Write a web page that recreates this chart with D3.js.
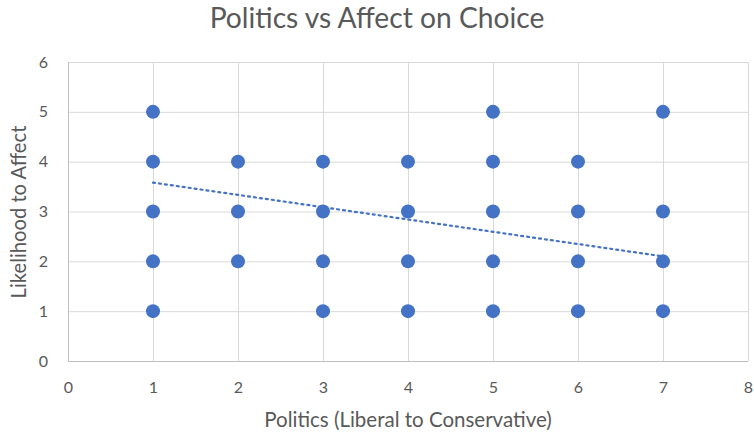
<!DOCTYPE html>
<meta charset="utf-8">
<title>Politics vs Affect on Choice</title>
<style>

body {
  margin: 0;
  background-color: white;
}

text {
  font-family: Lato, "Open Sans", sans-serif;
  fill: #595959;
}

.grid line {
  stroke: #d9d9d9;
  stroke-width: 1px;
}

.axis path, .axis line {
  display: none;
}

</style>
<body>
<script src="https://cdn.jsdelivr.net/npm/d3@7"></script>
<script>

// Politics score (x) and likelihood to affect (y), one entry per visible point
var politics = [1, 1, 1, 1, 1, 2, 2, 2, 3, 3, 3, 3, 4, 4, 4, 4, 5, 5, 5, 5, 5, 6, 6, 6, 6, 7, 7, 7, 7];
var affect   = [5, 4, 3, 2, 1, 4, 3, 2, 4, 3, 2, 1, 4, 3, 2, 1, 5, 4, 3, 2, 1, 4, 3, 2, 1, 5, 3, 2, 1];

// linear trendline
var trendX = [1, 7],
    trendY = [3.58, 2.1];

var xTicks = [0, 1, 2, 3, 4, 5, 6, 7, 8],
    yTicks = [0, 1, 2, 3, 4, 5, 6];

var width = 754,
    height = 435,
    margin = {top: 62, right: 6, bottom: 74, left: 68};

var x = d3.scaleLinear().domain([0, 8]).range([margin.left, width - margin.right]);
var y = d3.scaleLinear().domain([0, 6]).range([height - margin.bottom, margin.top]);

var svg = d3.select("body").append("svg")
    .attr("width", width)
    .attr("height", height);

// shrink or grow a label's font so it spans the wanted width
function fit(sel, w) {
  var size = parseFloat(sel.style("font-size")),
      len = sel.node().getComputedTextLength();
  sel.style("font-size", (size * w / len).toFixed(1) + "px");
}

svg.append("text")
    .attr("x", 377)
    .attr("y", 28)
    .attr("text-anchor", "middle")
    .style("font-size", "26px")
    .text("Politics vs Affect on Choice")
    .call(fit, 335);

var grid = svg.append("g").attr("class", "grid");

grid.selectAll(".h")
    .data(yTicks)
  .enter().append("line")
    .attr("x1", x(0))
    .attr("x2", x(8))
    .attr("y1", function(d) { return y(d) + 0.5; })
    .attr("y2", function(d) { return y(d) + 0.5; });

grid.selectAll(".v")
    .data(xTicks)
  .enter().append("line")
    .attr("x1", function(d) { return x(d) + 0.5; })
    .attr("x2", function(d) { return x(d) + 0.5; })
    .attr("y1", y(0))
    .attr("y2", y(6));

// axis lines
svg.append("line")
    .attr("x1", x(0) + 0.5).attr("x2", x(0) + 0.5)
    .attr("y1", y(0)).attr("y2", y(6))
    .style("stroke", "#bfbfbf");
svg.append("line")
    .attr("x1", x(0)).attr("x2", x(8))
    .attr("y1", y(0) + 0.5).attr("y2", y(0) + 0.5)
    .style("stroke", "#bfbfbf");

var xAxis = svg.append("g")
    .attr("class", "axis")
    .attr("transform", "translate(0," + (y(0) + 18) + ")")
    .call(d3.axisBottom(x).tickValues(xTicks).tickFormat(d3.format("d")).tickSize(0));

var yAxis = svg.append("g")
    .attr("class", "axis")
    .attr("transform", "translate(" + (x(0) - 17) + ",0)")
    .call(d3.axisLeft(y).tickValues(yTicks).tickFormat(d3.format("d")).tickSize(0));

svg.selectAll(".axis").attr("font-family", null).attr("font-size", null);
svg.selectAll(".axis text")
    .style("font-size", "16px")
    .style("fill", "#595959");

svg.append("text")
    .attr("x", 408)
    .attr("y", 427)
    .attr("text-anchor", "middle")
    .style("font-size", "19px")
    .text("Politics (Liberal to Conservative)")
    .call(fit, 287);

svg.append("text")
    .attr("transform", "translate(26,212)rotate(-90)")
    .attr("text-anchor", "middle")
    .style("font-size", "19px")
    .text("Likelihood to Affect")
    .call(fit, 173);

svg.selectAll("circle")
    .data(d3.range(politics.length))
  .enter().append("circle")
    .attr("cx", function(i) { return x(politics[i]); })
    .attr("cy", function(i) { return y(affect[i]); })
    .attr("r", 7)
    .style("fill", "#4472c4");

svg.append("line")
    .attr("x1", x(trendX[0])).attr("y1", y(trendY[0]))
    .attr("x2", x(trendX[1])).attr("y2", y(trendY[1]))
    .style("stroke", "#4472c4")
    .style("stroke-width", 2.2)
    .style("stroke-dasharray", "2,4")
    .style("stroke-linecap", "round");

</script>
